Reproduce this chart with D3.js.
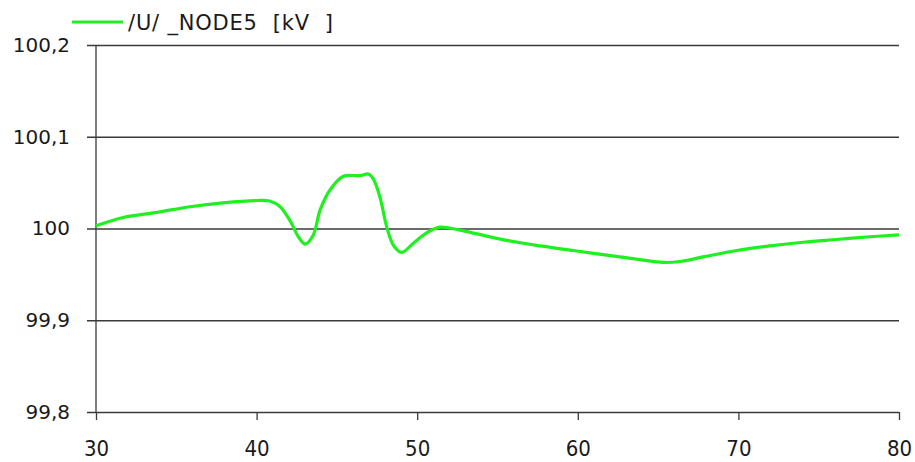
<!DOCTYPE html>
<html>
<head>
<meta charset="utf-8">
<script src="https://cdn.jsdelivr.net/npm/d3@7"></script>
<style>
  body { margin: 0; background: #fff; }
  svg { display: block; }
  text { fill: #1a1a1a; }
</style>
</head>
<body>
<svg id="chart" width="915" height="462"></svg>
<script>
// time axis (s) and node voltage (kV)
var time = [30, 31.7, 33.8, 35.85, 37.9, 40.0, 40.8, 41.45, 42.1, 42.6, 43.01, 43.53, 43.95, 44.57, 45.4, 46.44, 46.96, 47.27, 47.68, 48.1, 48.51, 49.03, 49.76, 50.56, 51.4, 52.0, 53.5, 55.57, 57.65, 59.72, 61.8, 63.87, 65.33, 66.36, 67.8, 69.9, 71.97, 74.04, 76.1, 78.2, 80];
var voltage = [100.003, 100.012, 100.0176, 100.0237, 100.028, 100.0305, 100.030, 100.024, 100.008, 99.991, 99.983, 99.993, 100.020, 100.042, 100.057, 100.0576, 100.0594, 100.054, 100.034, 100.002, 99.982, 99.974, 99.984, 99.995, 100.0015, 100.0005, 99.995, 99.987, 99.981, 99.976, 99.971, 99.966, 99.963, 99.964, 99.969, 99.976, 99.981, 99.985, 99.988, 99.991, 99.993];
var xTicks = [30, 40, 50, 60, 70, 80];
var yTicks = [99.8, 99.9, 100, 100.1, 100.2];
var seriesName = "/U/ _NODE5  [kV  ]";

var svg = d3.select("#chart");
var plotLeft = 96, plotRight = 899, plotTop = 45, plotBottom = 412;

var x = d3.scaleLinear().domain([30, 80]).range([plotLeft, plotRight]);
var y = d3.scaleLinear().domain([99.8, 100.2]).range([plotBottom, plotTop]);

var fmt = function(d) {
    return d3.format(".1f")(d).replace(".0", "").replace(".", ",");
};

// horizontal grid + y ticks
var yAxis = svg.append("g")
    .attr("transform", "translate(" + plotLeft + ",0)")
    .call(d3.axisLeft(y).tickValues(yTicks).tickSize(9).tickFormat(fmt).tickPadding(17));
yAxis.select(".domain").remove();
yAxis.selectAll(".tick line")
    .attr("x1", -9)
    .attr("x2", plotRight - plotLeft)
    .attr("stroke", "#3a3a3a")
    .attr("stroke-width", 1.3);
yAxis.selectAll(".tick text")
    .attr("font-family", "DejaVu Sans")
    .attr("font-size", 20)
    .style("fill", "#1a1a1a");

// y axis line
svg.append("line")
    .attr("x1", plotLeft).attr("x2", plotLeft)
    .attr("y1", plotTop).attr("y2", plotBottom)
    .attr("stroke", "#3a3a3a")
    .attr("stroke-width", 1.3);

// x axis
var xAxis = svg.append("g")
    .attr("transform", "translate(0," + plotBottom + ")")
    .call(d3.axisBottom(x).tickValues(xTicks).tickSize(8).tickFormat(d3.format("d")).tickPadding(20));
xAxis.select(".domain").remove();
xAxis.selectAll(".tick line")
    .attr("stroke", "#3a3a3a")
    .attr("stroke-width", 1.3);
xAxis.selectAll(".tick text")
    .attr("font-family", "DejaVu Sans Condensed")
    .attr("font-size", 22)
    .style("fill", "#1a1a1a");

// the series
var line = d3.line()
    .x(function(d, i) { return x(time[i]); })
    .y(function(d) { return y(d); })
    .curve(d3.curveCatmullRom.alpha(0.5));

svg.append("path")
    .datum(voltage)
    .attr("d", line)
    .attr("fill", "none")
    .attr("stroke", "#1ff01f")
    .attr("stroke-width", 3.2)
    .attr("stroke-linejoin", "round");

// legend
svg.append("line")
    .attr("x1", 72).attr("x2", 123)
    .attr("y1", 22).attr("y2", 22)
    .attr("stroke", "#1ff01f")
    .attr("stroke-width", 3.2);
svg.append("text")
    .attr("x", 128)
    .attr("y", 30)
    .attr("font-family", "DejaVu Sans")
    .attr("font-size", 21)
    .attr("letter-spacing", 0.8)
    .style("white-space", "pre")
    .text(seriesName);
</script>
</body>
</html>
